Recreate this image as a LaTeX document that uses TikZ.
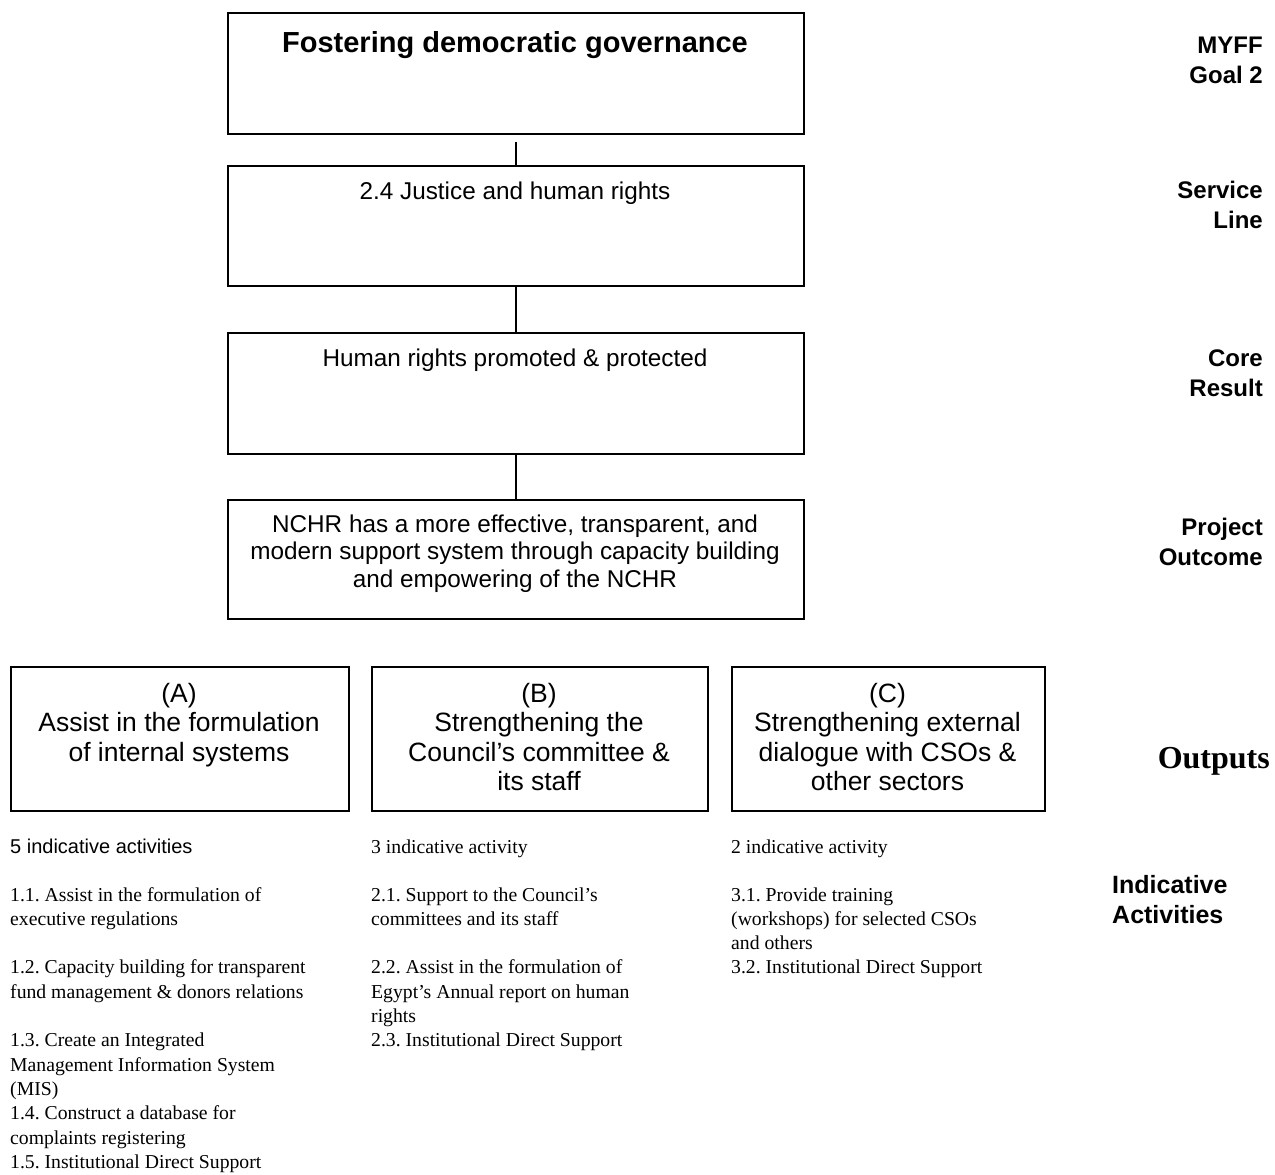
\documentclass[tikz,border=0pt]{standalone}
\usepackage{fontspec}
\setmainfont{Liberation Serif}
\setsansfont{Liberation Sans}
\frenchspacing
\begin{document}
\begin{tikzpicture}[x=1pt,y=-1pt,
  boxstyle/.style={draw, line width=1.8pt, inner sep=0pt, anchor=north west},
  conn/.style={line width=1.6pt},
  btxt/.style={anchor=base, inner sep=0pt, font=\sffamily\fontsize{24.3}{28}\selectfont},
  ttxt/.style={anchor=base, inner sep=0pt, font=\sffamily\bfseries\fontsize{29}{34}\selectfont},
  otxt/.style={anchor=base, inner sep=0pt, font=\sffamily\fontsize{26.5}{30}\selectfont},
  rlab/.style={anchor=base east, inner sep=0pt, font=\sffamily\bfseries\fontsize{24}{28}\selectfont},
  act/.style={anchor=base west, inner sep=0pt, font=\rmfamily\fontsize{19.7}{24}\selectfont},
  acts/.style={anchor=base west, inner sep=0pt, font=\sffamily\fontsize{20}{24}\selectfont}]
\useasboundingbox (0,0) rectangle (1275,1175);

% main column boxes
\node[boxstyle, minimum width=576pt, minimum height=121pt] (g1) at (227,12) {};
\node[boxstyle, minimum width=576pt, minimum height=120pt] (g2) at (227,165) {};
\node[boxstyle, minimum width=576pt, minimum height=121pt] (g3) at (227,332) {};
\node[boxstyle, minimum width=576pt, minimum height=119pt] (g4) at (227,499) {};

\node[ttxt] (t1) at (515,52) {Fostering democratic governance};
\node[btxt] (t2) at (515,199) {2.4 Justice and human rights};
\node[btxt] (t3) at (515,366) {Human rights promoted \& protected};
\node[btxt] (t4a) at (515,532) {NCHR has a more effective, transparent, and};
\node[btxt] (t4b) at (515,559.5) {modern support system through capacity building};
\node[btxt] (t4c) at (515,587) {and empowering of the NCHR};

\coordinate (c1) at ([yshift=-7pt]g1.south);
\draw[conn] (c1) -- (g2.north);
\draw[conn] (g2.south) -- (g3.north);
\draw[conn] (g3.south) -- (g4.north);

% output boxes
\node[boxstyle, minimum width=338pt, minimum height=144pt] (oA) at (10,666) {};
\node[boxstyle, minimum width=336pt, minimum height=144pt] (oB) at (371,666) {};
\node[boxstyle, minimum width=313pt, minimum height=144pt] (oC) at (731,666) {};

\node[otxt] (a1) at (179,702) {(A)};
\node[otxt] (a2) at (179,731.5) {Assist in the formulation};
\node[otxt] (a3) at (179,761) {of internal systems};

\node[otxt] (b1) at (539,702) {(B)};
\node[otxt] (b2) at (539,731.5) {Strengthening the};
\node[otxt] (b3) at (539,761) {Council’s committee \&};
\node[otxt] (b4) at (539,790.5) {its staff};

\node[otxt] (cc1) at (887.5,702) {(C)};
\node[otxt] (cc2) at (887.5,731.5) {Strengthening external};
\node[otxt] (cc3) at (887.5,761) {dialogue with CSOs \&};
\node[otxt] (cc4) at (887.5,790.5) {other sectors};

% right labels
\node[rlab] (r1a) at (1263,53) {MYFF};
\node[rlab] (r1b) at (1263,83) {Goal 2};
\node[rlab] (r2a) at (1263,198) {Service};
\node[rlab] (r2b) at (1263,228) {Line};
\node[rlab] (r3a) at (1263,366) {Core};
\node[rlab] (r3b) at (1263,396) {Result};
\node[rlab] (r4a) at (1263,535) {Project};
\node[rlab] (r4b) at (1263,565) {Outcome};
\node[anchor=base east, inner sep=0pt, font=\rmfamily\bfseries\fontsize{32}{36}\selectfont] (r5) at (1270,768) {Outputs};
\node[anchor=base west, inner sep=0pt, font=\sffamily\bfseries\fontsize{25}{30}\selectfont] (r6a) at (1112,893) {Indicative};
\node[anchor=base west, inner sep=0pt, font=\sffamily\bfseries\fontsize{25}{30}\selectfont] (r6b) at (1112,923) {Activities};

% activities column A
\node[acts] (ah) at (10,853) {5 indicative activities};
\node[act] (a11) at (10,901) {1.1. Assist in the formulation of};
\node[act] (a11b) at (10,925.3) {executive regulations};
\node[act] (a12) at (10,973.9) {1.2. Capacity building for transparent};
\node[act] (a12b) at (10,998.2) {fund management \& donors relations};
\node[act] (a13) at (10,1046.8) {1.3. Create an Integrated};
\node[act] (a13b) at (10,1071.1) {Management Information System};
\node[act] (a13c) at (10,1095.4) {(MIS)};
\node[act] (a14) at (10,1119.7) {1.4. Construct a database for};
\node[act] (a14b) at (10,1144) {complaints registering};
\node[act] (a15) at (10,1168.3) {1.5. Institutional Direct Support};

% activities column B
\node[act] (bh) at (371,853) {3 indicative activity};
\node[act] (b21) at (371,901) {2.1. Support to the Council’s};
\node[act] (b21b) at (371,925.3) {committees and its staff};
\node[act] (b22) at (371,973.9) {2.2. Assist in the formulation of};
\node[act] (b22b) at (371,998.2) {Egypt’s Annual report on human};
\node[act] (b22c) at (371,1022.5) {rights};
\node[act] (b23) at (371,1046.8) {2.3. Institutional Direct Support};

% activities column C
\node[act] (ch) at (731,853) {2 indicative activity};
\node[act] (c31) at (731,901) {3.1. Provide training};
\node[act] (c31b) at (731,925.3) {(workshops) for selected CSOs};
\node[act] (c31c) at (731,949.6) {and others};
\node[act] (c32) at (731,973.9) {3.2. Institutional Direct Support};
\end{tikzpicture}
\end{document}
